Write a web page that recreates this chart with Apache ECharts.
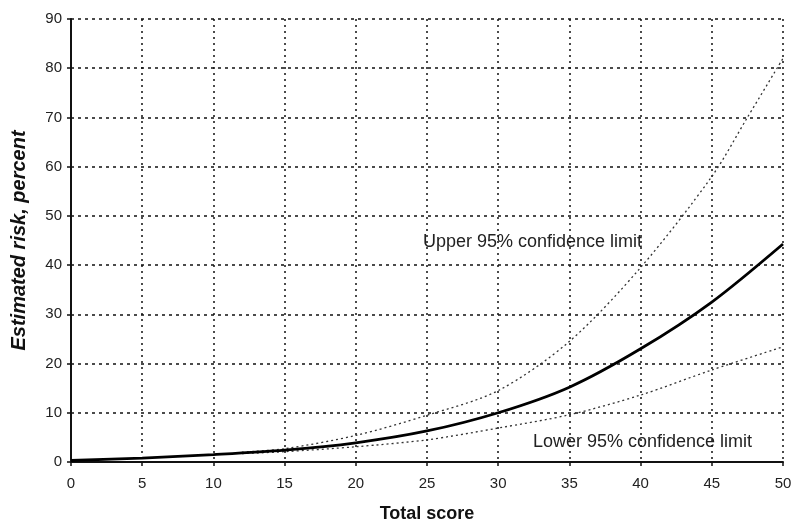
<!DOCTYPE html>
<html><head><meta charset="utf-8">
<script src="https://cdn.jsdelivr.net/npm/echarts@6/dist/echarts.min.js"></script>
<style>html,body{margin:0;padding:0;background:#fff}#c{width:794px;height:523px}</style>
</head><body><div id="c"></div>
<script>
const xTicks = [0,5,10,15,20,25,30,35,40,45,50];
const riskX = [0,5,10,15,20,25,30,35,40,45,50];
const riskY = [0.3,0.8,1.5,2.4,3.9,6.3,10.0,15.2,23.0,32.5,44.3];
const upperX = [12,15,20,25,30,35,40,45,47.5,50];
const upperY = [2.0,2.7,5.4,9.5,14.5,24.5,39.5,58.0,70.0,82.0];
const lowerX = [12,15,20,25,30,35,40,45,50];
const lowerY = [1.7,2.1,3.1,4.5,6.9,9.6,13.6,18.7,23.4];
const upperLabel = 'Upper 95% confidence limit';
const lowerLabel = 'Lower 95% confidence limit';

const pairs = (xs, ys) => xs.map((x, i) => [x, ys[i]]);
const chart = echarts.init(document.getElementById('c'), null, {renderer: 'canvas'});
const font = 'Liberation Sans, Arial, sans-serif';
chart.setOption({
  animation: false,
  backgroundColor: '#fff',
  grid: {left: 71, right: 11, top: 19, bottom: 61, containLabel: false, outerBoundsMode: 'none'},
  xAxis: {
    type: 'value', min: 0, max: 50, interval: 5,
    name: 'Total score', nameLocation: 'middle', nameGap: 43,
    nameTextStyle: {fontFamily: font, fontSize: 18, fontWeight: 'bold', color: '#111'},
    axisLine: {show: true, lineStyle: {color: '#111', width: 2}},
    axisTick: {show: true, length: 4, lineStyle: {color: '#111', width: 1.5}},
    axisLabel: {fontFamily: font, fontSize: 15, color: '#222', margin: 14},
    splitLine: {show: true, lineStyle: {color: '#111', width: 1.5, type: [2, 4]}}
  },
  yAxis: {
    type: 'value', min: 0, max: 90, interval: 10,
    name: 'Estimated risk, percent', nameLocation: 'middle', nameGap: 42, nameRotate: 90,
    nameTextStyle: {fontFamily: font, fontSize: 20, fontWeight: 'bold', fontStyle: 'italic', color: '#111'},
    axisLine: {show: true, lineStyle: {color: '#111', width: 2}},
    axisTick: {show: true, length: 4, lineStyle: {color: '#111', width: 1.5}},
    axisLabel: {fontFamily: font, fontSize: 15, color: '#222', margin: 9},
    splitLine: {show: true, lineStyle: {color: '#111', width: 1.5, type: [3, 4]}}
  },
  series: [
    {type: 'line', data: pairs(upperX, upperY), smooth: 0.3, showSymbol: false,
     lineStyle: {color: '#333', width: 1.3, type: [2, 3]}},
    {type: 'line', data: pairs(lowerX, lowerY), smooth: 0.3, showSymbol: false,
     lineStyle: {color: '#333', width: 1.3, type: [2, 3]}},
    {type: 'line', data: pairs(riskX, riskY), smooth: 0.3, showSymbol: false,
     lineStyle: {color: '#000', width: 2.8}}
  ],
  graphic: [
    {type: 'text', left: 423, top: 233, style: {text: upperLabel, font: '18px ' + font, fill: '#222'}},
    {type: 'text', left: 533, top: 433, style: {text: lowerLabel, font: '18px ' + font, fill: '#222'}}
  ]
});
</script></body></html>
